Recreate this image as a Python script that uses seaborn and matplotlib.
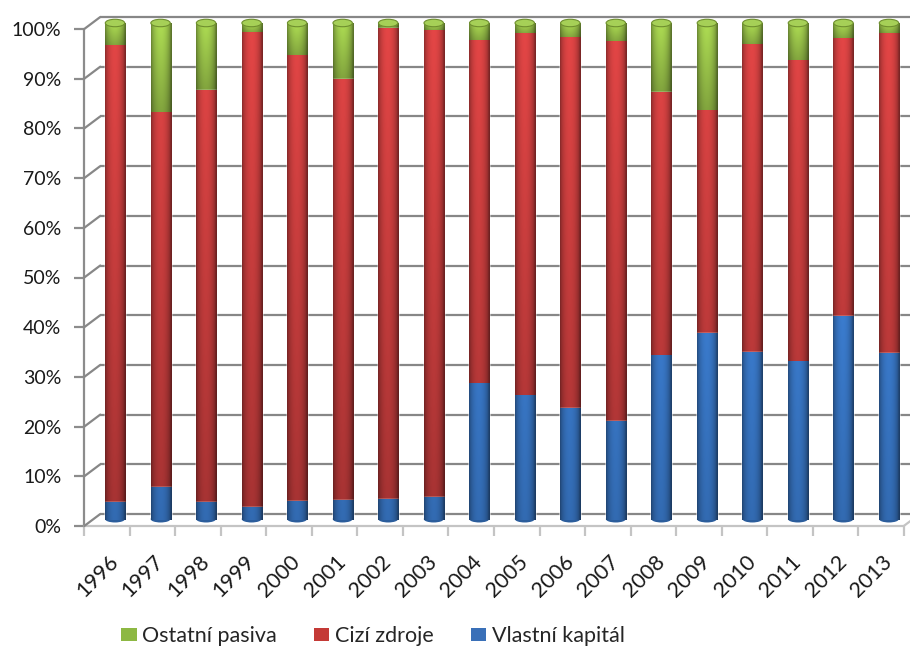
import numpy as np
import pandas as pd
import matplotlib
matplotlib.use("Agg")
import matplotlib.pyplot as plt
import seaborn as sns
from matplotlib import transforms
from matplotlib.patches import Ellipse, Patch
from matplotlib.lines import Line2D

# ---- data (shares of total liabilities, %) ----
roky = [str(r) for r in range(1996, 2014)]
vlastni_kapital = [3.6, 6.6, 3.6, 2.6, 3.8, 4.0, 4.2, 4.6, 27.4, 25.0,
                   22.5, 19.9, 33.0, 37.6, 33.8, 31.8, 41.0, 33.6]
cizi_zdroje = [91.8, 75.3, 82.9, 95.4, 89.6, 84.7, 94.7, 93.8, 69.0, 72.8,
               74.5, 76.3, 53.1, 44.7, 61.8, 60.6, 55.8, 64.2]
ostatni_pasiva = [4.6, 18.1, 13.5, 2.0, 6.6, 11.3, 1.1, 1.6, 3.6, 2.2,
                  3.0, 3.8, 13.9, 17.7, 4.4, 7.6, 3.2, 2.2]
nazvy_rad = ["Ostatní pasiva", "Cizí zdroje", "Vlastní kapitál"]
y_ticks = list(range(0, 101, 10))
y_labels = [f"{t}%" for t in y_ticks]

df = pd.DataFrame({"rok": roky, "vk": vlastni_kapital,
                   "cz": cizi_zdroje, "op": ostatni_pasiva})
celkem = df[["vk", "cz", "op"]].sum(axis=1)
df["top_vk"] = df["vk"] / celkem * 100
df["top_cz"] = (df["vk"] + df["cz"]) / celkem * 100
df["top_op"] = (df["vk"] + df["cz"] + df["op"]) / celkem * 100

sns.set_style("white")
plt.rcParams["font.family"] = ["Lato", "DejaVu Sans"]

W, H = 910, 651
fig = plt.figure(figsize=(W / 100, H / 100), dpi=100)
ax = fig.add_axes([92.25 / W, 131 / H, 819.5 / W, 497 / H])

# depth offsets of the pseudo-3D box (back wall / front edge)
back = transforms.ScaledTranslation(0.08, 0.06, fig.dpi_scale_trans)
front = transforms.ScaledTranslation(-0.08, -0.06, fig.dpi_scale_trans)

green = np.array([0.67, 0.85, 0.32])
red = np.array([0.88, 0.27, 0.27])
blue = np.array([0.27, 0.57, 0.95])
legend_cols = ["#8DB843", "#C43A36", "#3A70B8"]

BAR_W = 0.44


def cylinder_fill(patch, rgb, z, local=False):
    x0, y0 = patch.get_x(), patch.get_y()
    w, h = patch.get_width(), patch.get_height()
    if h <= 0:
        return
    nx, ny = 48, max(4, int(h * 5))
    u = (np.arange(nx) + 0.5) / nx
    prof = 0.56 + 0.46 * np.sin(np.pi * np.clip(u * 1.06, 0, 1)) ** 0.55
    yv = y0 + (np.arange(ny) + 0.5) / ny * h
    if local:
        vert = 0.74 + 0.26 * (yv - y0) / h
    else:
        vert = 0.72 + 0.28 * yv / 100
    img = rgb[None, None, :] * prof[None, :, None] * vert[:, None, None]
    ax.imshow(np.clip(img, 0, 1), extent=(x0, x0 + w, y0, y0 + h),
              origin="lower", aspect="auto", zorder=z,
              interpolation="bilinear")


layers = [("top_op", green, True), ("top_cz", red, False), ("top_vk", blue, False)]
for k, (col, rgb, local) in enumerate(layers):
    n0 = len(ax.patches)
    sns.barplot(data=df, x="rok", y=col, color=rgb, width=BAR_W,
                saturation=1, errorbar=None, ax=ax, zorder=3 + 2 * k)
    for p in ax.patches[n0:]:
        if col == "top_op":
            # green only visible above red, shade within its own segment
            idx = int(round(p.get_x() + BAR_W / 2))
            lower = df["top_cz"].iloc[idx]
            seg = plt.Rectangle((p.get_x(), lower), p.get_width(),
                                p.get_height() - lower)
            cylinder_fill(seg, rgb, 4 + 2 * k, local=True)
            cylinder_fill(plt.Rectangle((p.get_x(), 0), p.get_width(), lower),
                          rgb * 0.8, 4 + 2 * k, local=False)
        else:
            cylinder_fill(p, rgb, 4 + 2 * k)

# cylinder caps and rounded bottoms
for i in range(len(roky)):
    ax.add_patch(Ellipse((i, df["top_op"].iloc[i]), BAR_W * 0.97, 1.5,
                         facecolor="#A6D057", edgecolor="#6F8F2F", lw=0.8,
                         zorder=12, clip_on=False))
    ax.add_patch(Ellipse((i, 0.2), BAR_W, 1.4, facecolor="#2B5D9C",
                         edgecolor="none", zorder=2, clip_on=False))

ax.set_xlim(-0.5, len(roky) - 0.5)
ax.set_ylim(0, 100)
for s in ax.spines.values():
    s.set_visible(False)
ax.set_xlabel("")
ax.set_ylabel("")

# back wall gridlines and left wall diagonals
grid_c = "#878787"
for t in y_ticks:
    ax.plot([-0.5, len(roky) - 0.5], [t, t], color=grid_c, lw=1.6,
            transform=ax.transData + back, zorder=1, clip_on=False,
            solid_capstyle="butt")
    p_f = (ax.transData + front).transform((-0.5, t))
    p_b = (ax.transData + back).transform((-0.5, t))
    fig.add_artist(Line2D([p_f[0] / W, p_b[0] / W], [p_f[1] / H, p_b[1] / H],
                          color=grid_c, lw=1.6, transform=fig.transFigure))

# front vertical axis line
ax.plot([-0.5, -0.5], [0, 100], color="#8C8C8C", lw=1.6,
        transform=ax.transData + front, clip_on=False, zorder=1)
# floor front edge and right diagonal
ax.plot([-0.5, len(roky) - 0.5], [0, 0], color="#C4C4C4", lw=1.6,
        transform=ax.transData + front, clip_on=False, zorder=1)
p_f = (ax.transData + front).transform((len(roky) - 0.5, 0))
p_b = (ax.transData + back).transform((len(roky) - 0.5, 0))
fig.add_artist(Line2D([p_f[0] / W, p_b[0] / W], [p_f[1] / H, p_b[1] / H],
                      color="#C4C4C4", lw=1.6, transform=fig.transFigure))

# y ticks: on the front plane
ax.set_yticks(y_ticks)
ax.set_yticklabels(y_labels)
ax.tick_params(axis="y", length=7, width=1.6, color="#8C8C8C", pad=9.5,
               labelsize=14, labelcolor="#1a1a1a", left=True)
for tk in ax.yaxis.get_major_ticks():
    tk.tick1line.set_transform(tk.tick1line.get_transform() + front)
    tk.label1.set_transform(tk.label1.get_transform() + front)

# x ticks: floor boundaries as minor ticks, year labels rotated
ax.set_xticks(range(len(roky)))
ax.set_xticklabels(roky)
ax.set_xticks(np.arange(-0.5, len(roky)), minor=True)
ax.tick_params(axis="x", which="major", length=0, pad=22.5, labelsize=15.5,
               labelcolor="#1a1a1a")
ax.tick_params(axis="x", which="minor", length=7, width=1.6,
               color="#C4C4C4", bottom=True)
for tk in ax.xaxis.get_minor_ticks():
    tk.tick1line.set_transform(tk.tick1line.get_transform() + front)
shift_x = transforms.ScaledTranslation(-0.07, 0, fig.dpi_scale_trans)
for lab in ax.get_xticklabels():
    lab.set_rotation(45)
    lab.set_ha("right")
    lab.set_va("top")
    lab.set_rotation_mode("anchor")
    lab.set_transform(lab.get_transform() + shift_x)

handles = [Patch(facecolor=c, edgecolor="none") for c in legend_cols]
fig.legend(handles, nazvy_rad, loc="center", bbox_to_anchor=(373 / W, 15 / H),
           ncol=3, frameon=False, fontsize=15.5, handlelength=0.7,
           handleheight=0.6, handletextpad=0.25, columnspacing=1.75,
           borderpad=0.0)

fig.savefig("out.png", dpi=100)
